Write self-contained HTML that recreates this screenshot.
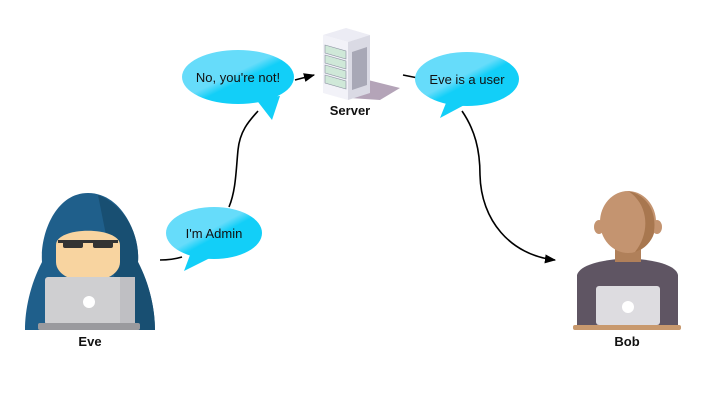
<!DOCTYPE html>
<html><head><meta charset="utf-8"><style>
html,body{margin:0;padding:0;background:#fff;}
svg{display:block;font-family:"Liberation Sans",sans-serif;}
</style></head><body>
<svg width="720" height="405" viewBox="0 0 720 405" xmlns="http://www.w3.org/2000/svg">
<defs>
<marker id="ar" viewBox="0 0 10 10" refX="9" refY="5" markerWidth="7" markerHeight="7" orient="auto"><path d="M0,1 L10,5 L0,9 z" fill="#000"/></marker>
<linearGradient id="bub" x1="0" y1="0" x2="1" y2="1"><stop offset="0.45" stop-color="#66dcfa"/><stop offset="0.55" stop-color="#12cff8"/></linearGradient>
<clipPath id="bh"><ellipse cx="628" cy="222" rx="28" ry="31"/></clipPath>
</defs>
<path d="M160,260 Q172,260 182,257" fill="none" stroke="#000" stroke-width="1.6"/>
<path d="M229,207 C236,190 236,170 238,150 C240,130 250,120 258,111" fill="none" stroke="#000" stroke-width="1.6"/>
<path d="M295,80 L314,75" fill="none" stroke="#000" stroke-width="1.6" marker-end="url(#ar)"/>
<path d="M403,75 L418,78" fill="none" stroke="#000" stroke-width="1.6"/>
<path d="M462,111 C475,130 480,150 480,175 C481,220 510,255 555,260" fill="none" stroke="#000" stroke-width="1.6" marker-end="url(#ar)"/>

<g>
<path d="M190,255 L184,271 L210,258 z" fill="#12cff8"/>
<ellipse cx="214" cy="233" rx="48" ry="26" fill="url(#bub)"/>
<text x="214" y="238" font-size="13" text-anchor="middle" fill="#111">I'm Admin</text>
</g>
<g>
<path d="M255,98 L272,120 L280,96 z" fill="#12cff8"/>
<ellipse cx="238" cy="77" rx="56" ry="27" fill="url(#bub)"/>
<text x="238" y="82" font-size="13" text-anchor="middle" fill="#111">No, you're not!</text>
</g>
<g>
<path d="M448,98 L440,118 L470,102 z" fill="#12cff8"/>
<ellipse cx="467" cy="79" rx="52" ry="27" fill="url(#bub)"/>
<text x="467" y="84" font-size="13" text-anchor="middle" fill="#111">Eve is a user</text>
</g>

<!-- server -->
<g>
<polygon points="350,98 368,80 400,88 380,100" fill="#b4a4b8"/>
<polygon points="323,35 346,28 370,35 348,42" fill="#ececf4"/>
<polygon points="323,35 348,42 348,100 323,93" fill="#f2f2f8"/>
<polygon points="348,42 370,35 370,93 348,100" fill="#dadae4"/>
<g fill="#cfe8d8" stroke="#8a90a0" stroke-width="0.6">
<polygon points="325,45 346,51 346,59 325,53"/>
<polygon points="325,55 346,61 346,69 325,63"/>
<polygon points="325,65 346,71 346,79 325,73"/>
<polygon points="325,75 346,81 346,89 325,83"/>
</g>
<polygon points="352,52 367,47 367,85 352,90" fill="#a8a8b6"/>
</g>
<text x="350" y="115" font-size="13" font-weight="bold" text-anchor="middle" fill="#111">Server</text>

<!-- Eve -->
<g>
<path d="M88,193 C55,193 40,235 42,262 C30,285 25,310 25,330 L155,330 C155,310 150,285 138,262 C140,235 122,193 88,193 z" fill="#1f5f8b"/>
<path d="M98,195 C125,205 140,235 138,262 C150,285 155,310 155,330 L125,330 z" fill="#184f72"/>
<path d="M56,245 C56,226 120,226 120,245 L120,262 C120,276 100,282 88,282 C76,282 56,276 56,262 z" fill="#f8d4a0"/>
<rect x="58" y="240" width="60" height="3" fill="#333"/>
<rect x="63" y="240" width="20" height="8" rx="2" fill="#333"/>
<rect x="93" y="240" width="20" height="8" rx="2" fill="#333"/>
<rect x="45" y="277" width="90" height="48" rx="3" fill="#cfcfd1"/>
<rect x="120" y="277" width="15" height="48" fill="#bfbfc3"/>
<circle cx="89" cy="302" r="6" fill="#fff"/>
<rect x="38" y="323" width="102" height="7" rx="2" fill="#9a9a9e"/>
</g>
<text x="90" y="346" font-size="13" font-weight="bold" text-anchor="middle" fill="#111">Eve</text>

<!-- Bob -->
<g>
<path d="M577,330 L577,275 C580,265 600,260 628,258 C656,260 676,265 678,275 L678,330 z" fill="#5f5563"/>
<rect x="615" y="240" width="26" height="22" fill="#b0805a"/>
<ellipse cx="599" cy="227" rx="5" ry="7" fill="#c49470"/>
<ellipse cx="657" cy="227" rx="5" ry="7" fill="#c49470"/>
<ellipse cx="628" cy="222" rx="28" ry="31" fill="#c49470"/>
<ellipse cx="612" cy="224" rx="30" ry="34" fill="none" stroke="#a8774f" stroke-width="18" clip-path="url(#bh)" transform="translate(16 0)" opacity="0"/>
<path d="M628,191 C648,195 660,215 652,240 C648,248 640,252 634,253 C650,235 650,205 628,191 z" fill="#a8774f" clip-path="url(#bh)"/>
<rect x="596" y="286" width="64" height="39" rx="3" fill="#dddce0"/>
<circle cx="628" cy="307" r="6" fill="#fff"/>
<rect x="573" y="325" width="108" height="5" rx="2" fill="#c8996e"/>
</g>
<text x="627" y="346" font-size="13" font-weight="bold" text-anchor="middle" fill="#111">Bob</text>
</svg>
</body></html>
